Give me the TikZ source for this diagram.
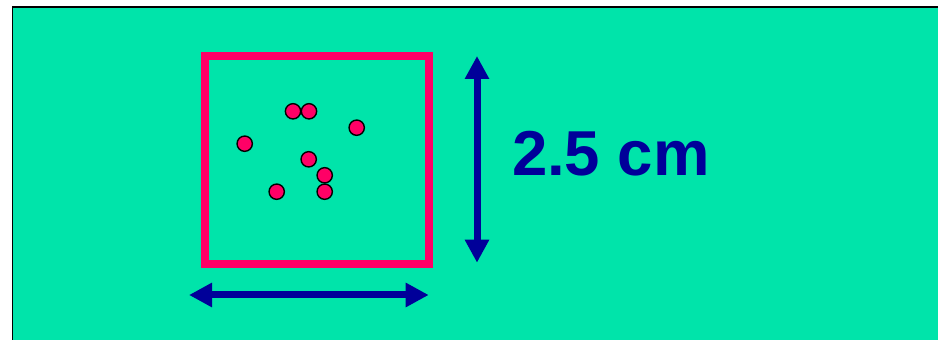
\documentclass[tikz,border=0pt]{standalone}
\usepackage{fontspec}
\setmainfont{Liberation Sans}
\usetikzlibrary{arrows.meta}

\begin{document}
\begin{tikzpicture}[x=1pt,y=1pt]
\definecolor{fillColor}{RGB}{255,255,255}
\path[use as bounding box,fill=fillColor] (0,0) rectangle (938,340);
\definecolor{bgColor}{RGB}{0,228,170}
\definecolor{pinkColor}{RGB}{255,0,102}
\definecolor{blueColor}{RGB}{0,0,153}
\tikzset{
  dot/.style={circle,draw=black,fill=pinkColor,line width=1.4pt,minimum size=15.3pt,inner sep=0pt},
  dimarrow/.style={draw=blueColor,line width=7pt,{Triangle[length=23pt,width=23pt]}-{Triangle[length=23pt,width=23pt]}}
}
% background
\path[fill=bgColor] ( 12.50,  0.00) rectangle (938.00,333.00);
\path[draw=black,line width= 1.5pt] ( 12.50,  0.00) -- ( 12.50,333.00) -- (938.00,333.00);

% sample square
\path[draw=pinkColor,line width= 8pt] (205.00, 76.30) rectangle (429.00,284.30);

\node[dot] (d1) at (293.00,228.70) {};
\node[dot] (d2) at (309.00,228.70) {};
\node[dot] (d3) at (356.70,212.30) {};
\node[dot] (d4) at (244.70,196.30) {};
\node[dot] (d5) at (308.70,180.70) {};
\node[dot] (d6) at (324.70,164.70) {};
\node[dot] (d7) at (276.70,148.30) {};
\node[dot] (d8) at (324.70,148.30) {};

% dimension arrows
\coordinate (hleft) at (189.00, 45.00);
\coordinate (hright) at (428.70, 45.00);
\coordinate (vtop) at (477.00,284.00);
\coordinate (vbottom) at (477.00, 77.30);
\draw[dimarrow] (hleft) -- (hright);
\draw[dimarrow] (vtop) -- (vbottom);

\node[text=blueColor,anchor=base west,inner sep=0pt,outer sep=0pt,font=\fontsize{63.5}{76}\selectfont\bfseries] (size) at (512.00,164.00) {2.5 cm};
\end{tikzpicture}
\end{document}
